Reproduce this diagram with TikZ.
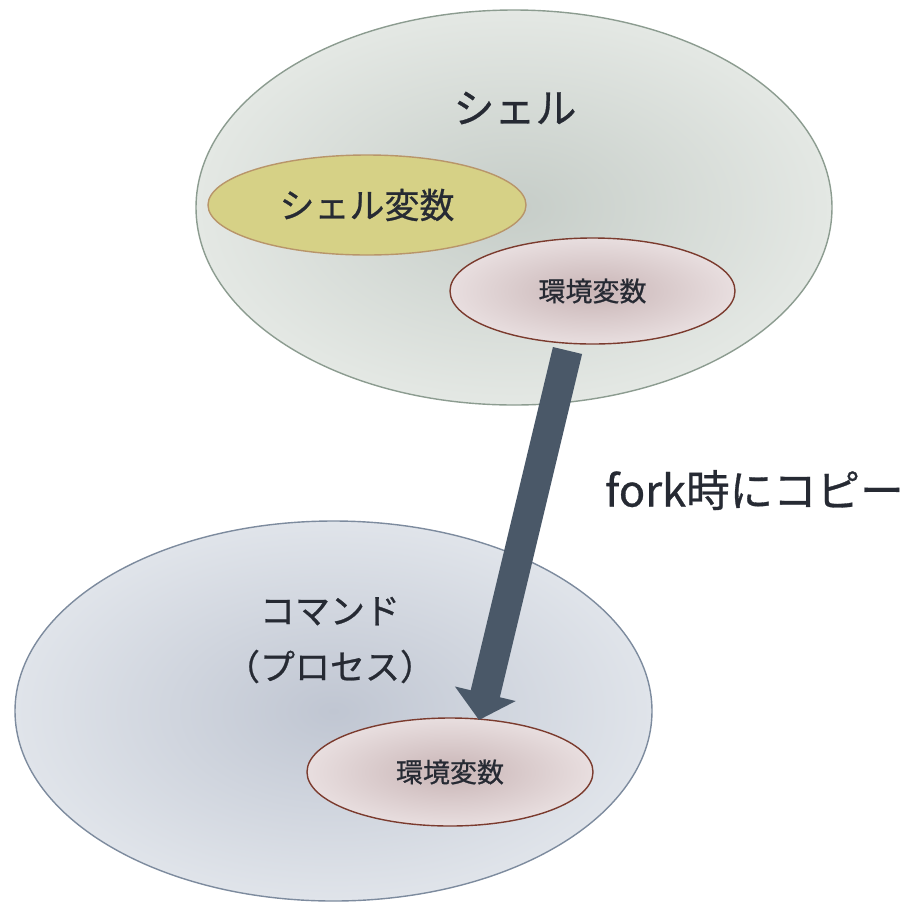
\documentclass[tikz,border=0pt]{standalone}
\usepackage{fontspec}
\setmainfont[FakeBold=0.7]{Noto Sans CJK JP}
\usetikzlibrary{shapes.geometric,arrows.meta}
\definecolor{txt}{HTML}{262A33}
\definecolor{shellin}{HTML}{C6CDC8}
\definecolor{shellout}{HTML}{E4E8E4}
\definecolor{shellbd}{HTML}{8C9C90}
\definecolor{cmdin}{HTML}{C0C6D2}
\definecolor{cmdout}{HTML}{E0E4EA}
\definecolor{cmdbd}{HTML}{7D8B9E}
\definecolor{envin}{HTML}{C9B5B6}
\definecolor{envout}{HTML}{E8DEDF}
\definecolor{envbd}{HTML}{7B3B2E}
\definecolor{svfill}{HTML}{D6D186}
\definecolor{svbd}{HTML}{B8956A}
\definecolor{arrowc}{HTML}{4A5868}
\tikzset{
  blob/.style={ellipse, inner sep=0pt, line width=1.4pt},
  label/.style={text=txt, inner sep=0pt, align=center},
}
\begin{document}
\begin{tikzpicture}[x=1pt,y=-1pt]
\useasboundingbox (0,0) rectangle (908,903);
% shell
\node[blob, draw=shellbd, shading=radial, inner color=shellin, outer color=shellout,
  minimum width=636pt, minimum height=395pt] (shell) at (514,207.5) {};
\node[label, font=\fontsize{41}{44}\selectfont] (shelltxt) at (515,108) {シェル};
\node[blob, draw=svbd, fill=svfill, minimum width=318pt, minimum height=100pt,
  font=\fontsize{35}{40}\selectfont, text=txt] (shellvar) at (367,205) {シェル変数};
\node[blob, draw=envbd, shading=radial, inner color=envin, outer color=envout,
  minimum width=285pt, minimum height=106pt, font=\fontsize{27}{30}\selectfont, text=txt]
  (env1) at (592.5,291) {環境変数};
% command
\node[blob, draw=cmdbd, shading=radial, inner color=cmdin, outer color=cmdout,
  minimum width=637pt, minimum height=380pt] (cmd) at (333.5,711) {};
\node[label, font=\fontsize{35}{56}\selectfont] (cmdtxt) at (330,640) {コマンド\\（プロセス）};
\node[blob, draw=envbd, shading=radial, inner color=envin, outer color=envout,
  minimum width=286pt, minimum height=108pt, font=\fontsize{27}{30}\selectfont, text=txt]
  (env2) at (450,772) {環境変数};
% arrow
\coordinate (astart) at (567.5,350.5);
\coordinate (aend) at (479,720);
\draw[arrowc, line width=30pt, -{Triangle[width=61pt,length=27pt]}] (astart) -- (aend);
\node[label, anchor=west, font=\fontsize{43.5}{46}\selectfont] (forktxt) at (605,490) {fork時にコピー};
\end{tikzpicture}
\end{document}
